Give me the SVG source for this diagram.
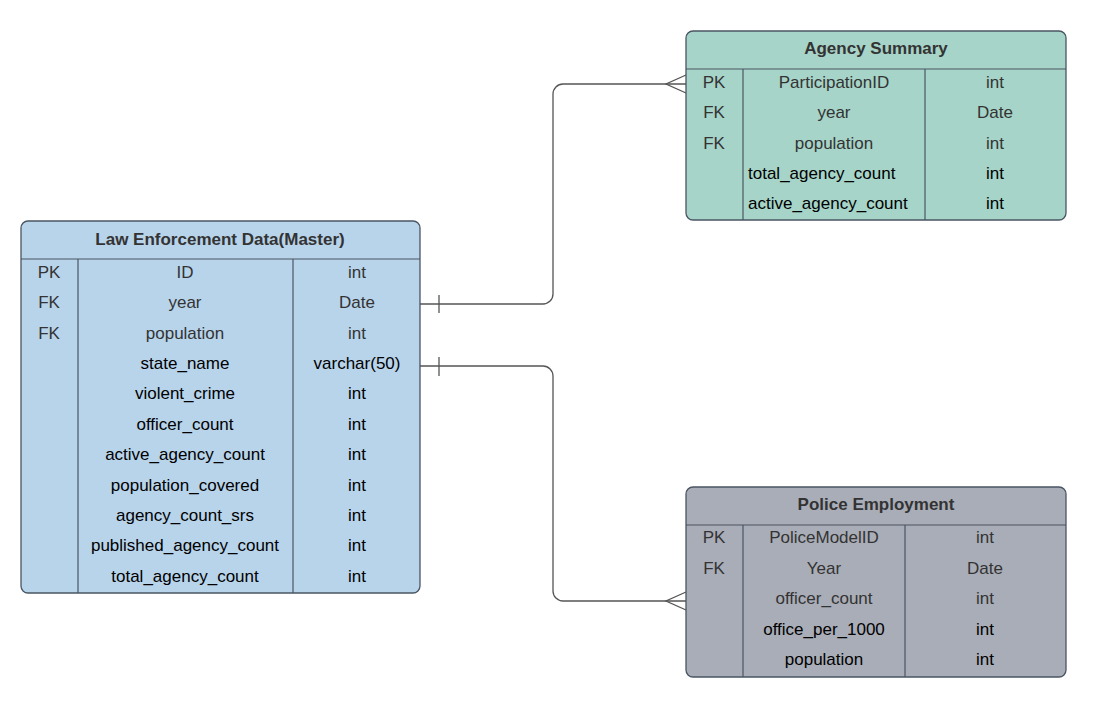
<svg xmlns="http://www.w3.org/2000/svg" width="1101" height="714" viewBox="0 0 1101 714">
<style>
.box{stroke:#4a5563;stroke-width:1.3}
.div{stroke:#4a5563;stroke-width:1.2;fill:none}
text{font-family:"Liberation Sans",Arial,sans-serif;font-size:17px;text-anchor:middle;dominant-baseline:central}
.h{font-weight:bold;fill:#333}
.g{fill:#333}
.k{fill:#000}
.l{text-anchor:start}
.conn{stroke:#555;stroke-width:1.3;fill:none}
</style>
<rect width="1101" height="714" fill="#fff"/>
<g id="connectors">
<path class="conn" d="M420,304 H543 A10,10 0 0 0 553,294 V94 A10,10 0 0 1 563,84 H686"/>
<path class="conn" d="M439,295 V313"/>
<path class="conn" d="M686,75 L666,84 L686,93"/>
<path class="conn" d="M420,366 H543 A10,10 0 0 1 553,376 V591 A10,10 0 0 0 563,601 H686"/>
<path class="conn" d="M439,357 V376"/>
<path class="conn" d="M686,592 L666,601 L686,610"/>
</g>
<g id="master">
<rect class="box" x="21" y="221" width="399" height="372" rx="7" fill="#b8d4eb"/>
<line class="div" x1="21" y1="259" x2="420" y2="259"/>
<line class="div" x1="78" y1="259" x2="78" y2="593"/>
<line class="div" x1="293" y1="259" x2="293" y2="593"/>
<text class="h" x="220" y="239">Law Enforcement Data(Master)</text>
<text class="g" x="49" y="272">PK</text><text class="g" x="185" y="272">ID</text><text class="g" x="357" y="272">int</text>
<text class="g" x="49" y="302">FK</text><text class="g" x="185" y="302">year</text><text class="g" x="357" y="302">Date</text>
<text class="g" x="49" y="333">FK</text><text class="g" x="185" y="333">population</text><text class="g" x="357" y="333">int</text>
<text class="k" x="185" y="363">state_name</text><text class="k" x="357" y="363">varchar(50)</text>
<text class="k" x="185" y="393">violent_crime</text><text class="k" x="357" y="393">int</text>
<text class="k" x="185" y="424">officer_count</text><text class="k" x="357" y="424">int</text>
<text class="k" x="185" y="454">active_agency_count</text><text class="k" x="357" y="454">int</text>
<text class="k" x="185" y="485">population_covered</text><text class="k" x="357" y="485">int</text>
<text class="k" x="185" y="515">agency_count_srs</text><text class="k" x="357" y="515">int</text>
<text class="k" x="185" y="545">published_agency_count</text><text class="k" x="357" y="545">int</text>
<text class="k" x="185" y="576">total_agency_count</text><text class="k" x="357" y="576">int</text>
</g>
<g id="agency">
<rect class="box" x="686" y="31" width="380" height="189" rx="7" fill="#a6d4c8"/>
<line class="div" x1="686" y1="69" x2="1066" y2="69"/>
<line class="div" x1="743" y1="69" x2="743" y2="220"/>
<line class="div" x1="925" y1="69" x2="925" y2="220"/>
<text class="h" x="876" y="48">Agency Summary</text>
<text class="g" x="714" y="82">PK</text><text class="g" x="834" y="82">ParticipationID</text><text class="g" x="995" y="82">int</text>
<text class="g" x="714" y="112">FK</text><text class="g" x="834" y="112">year</text><text class="g" x="995" y="112">Date</text>
<text class="g" x="714" y="143">FK</text><text class="g" x="834" y="143">population</text><text class="g" x="995" y="143">int</text>
<text class="k l" x="748" y="173">total_agency_count</text><text class="k" x="995" y="173">int</text>
<text class="k l" x="748" y="203">active_agency_count</text><text class="k" x="995" y="203">int</text>
</g>
<g id="police">
<rect class="box" x="686" y="487" width="380" height="190" rx="7" fill="#a9adb7"/>
<line class="div" x1="686" y1="525" x2="1066" y2="525"/>
<line class="div" x1="743" y1="525" x2="743" y2="677"/>
<line class="div" x1="905" y1="525" x2="905" y2="677"/>
<text class="h" x="876" y="504">Police Employment</text>
<text class="g" x="714" y="537">PK</text><text class="g" x="824" y="537">PoliceModelID</text><text class="g" x="985" y="537">int</text>
<text class="g" x="714" y="568">FK</text><text class="g" x="824" y="568">Year</text><text class="g" x="985" y="568">Date</text>
<text class="g" x="824" y="598">officer_count</text><text class="g" x="985" y="598">int</text>
<text class="k" x="824" y="629">office_per_1000</text><text class="k" x="985" y="629">int</text>
<text class="k" x="824" y="659">population</text><text class="k" x="985" y="659">int</text>
</g>
</svg>
